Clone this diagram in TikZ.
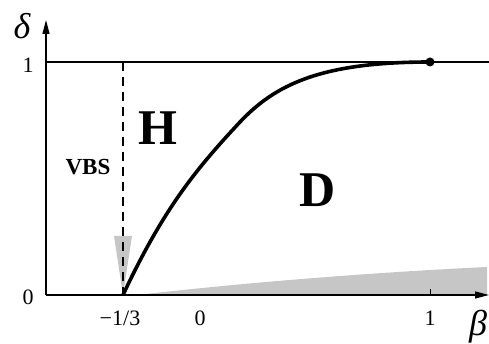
\documentclass[tikz,border=0pt]{standalone}
\usepackage{fontspec}
\setmainfont{Liberation Serif}
\usetikzlibrary{arrows.meta}
\begin{document}
\begin{tikzpicture}[x=1pt,y=-1pt,
  axis/.style={line width=1.3pt},
  num/.style={font=\fontsize{22}{24}\selectfont, inner sep=0pt},
  greek/.style={font=\fontsize{36}{38}\selectfont\itshape, inner sep=0pt},
  region/.style={font=\fontsize{50}{52}\selectfont\bfseries, inner sep=0pt},
  small/.style={font=\fontsize{23}{25}\selectfont\bfseries, inner sep=0pt},
  shade/.style={fill=gray!45, draw=none},
  curve/.style={line width=3.6pt},
  vbs/.style={line width=1.2pt, dash pattern=on 9pt off 6pt}]
\useasboundingbox (0,0) rectangle (489,344);
% coordinates
\coordinate (O) at (46,295);
\coordinate (Ytop) at (46,20);
\coordinate (Xend) at (489,295);
\coordinate (L1) at (46,62);
\coordinate (R1) at (489,62);
\coordinate (M) at (123,295);
\coordinate (Mtop) at (123,62);
\coordinate (P) at (430,62);
\coordinate (K) at (240,122);
% shaded regions
\fill[shade] (137,295) .. controls (250,282) and (380,272) .. (487,267) -- (487,295) -- cycle;
\fill[shade] (114,236) -- (132,236) -- (123,295) -- cycle;
% axes
\draw[axis, -{Triangle[length=14pt,width=7pt]}] (O) -- (Ytop);
\draw[axis, -{Triangle[length=14pt,width=7pt]}] (O) -- (Xend);
\draw[line width=1.2pt] (L1) -- (R1);
\draw[vbs] (Mtop) -- (M);
% ticks
\draw[line width=0.8pt] (430,295) -- (430,289);
% curve
\draw[curve] (M) .. controls (165,205) and (200,165) .. (K)
  .. controls (275,85) and (320,62) .. (P);
\fill (P) circle (4.5pt);
% labels
\node[greek] (d) at (22,26) {δ};
\node[greek] (b) at (478,327) {β};
\node[num] (y1) at (28,65) {1};
\node[num] (y0) at (28,297) {0};
\node[num] (xm) at (120,318) {−1/3};
\node[num] (x0) at (200,318) {0};
\node[num] (x1) at (430,318) {1};
\node[region] (H) at (158,128) {H};
\node[region] (D) at (318,190) {D};
\node[small] (V) at (88,167) {VBS};
\end{tikzpicture}
\end{document}
